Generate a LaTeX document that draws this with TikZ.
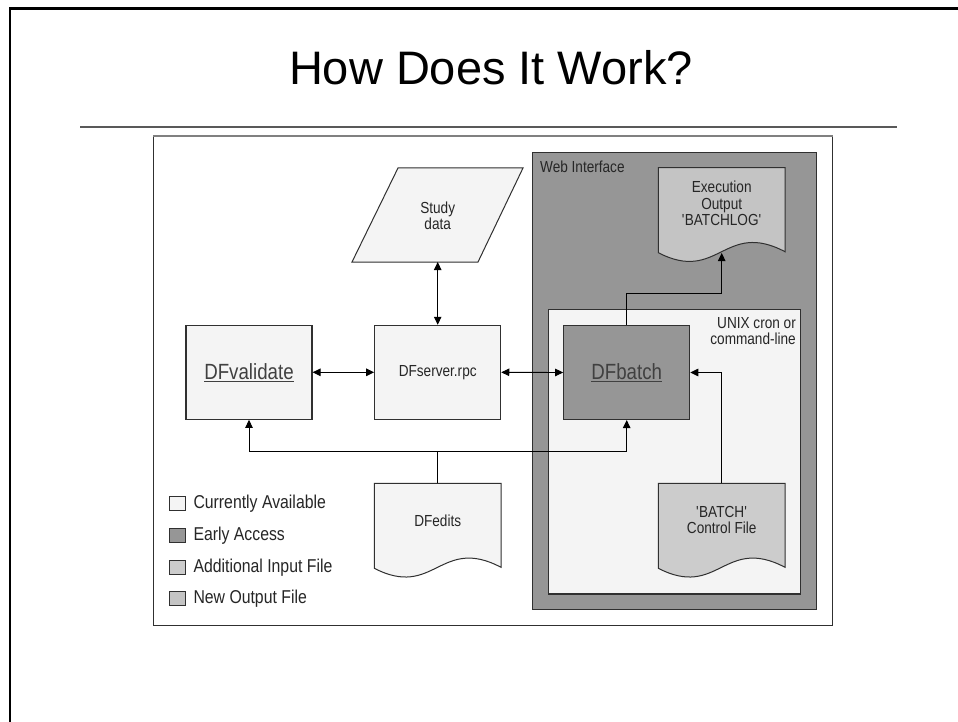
\documentclass[tikz,border=0pt]{standalone}
\usepackage{fontspec}
\setmainfont{Liberation Sans}[FakeStretch=0.85]
\newfontfamily\titlefont{Liberation Sans}
\usetikzlibrary{arrows.meta}
\definecolor{lightf}{HTML}{F4F4F4}
\definecolor{darkf}{HTML}{969696}
\definecolor{inf}{HTML}{CCCCCC}
\definecolor{outf}{HTML}{C4C4C4}
\definecolor{edge}{HTML}{303030}
\definecolor{txt}{HTML}{262626}
\definecolor{linkc}{HTML}{404040}
\begin{document}
\begin{tikzpicture}[x=1pt,y=-1pt,
  box/.style={draw=edge, line width=1.1pt, minimum width=126pt, minimum height=94pt, inner sep=0pt, font=\fontsize{16}{16.5}\selectfont, text=txt},
  bigtxt/.style={font=\fontsize{22}{24}\selectfont, text=linkc},
  lbl/.style={font=\fontsize{16}{16.5}\selectfont, text=txt, align=center, inner sep=0pt},
  arr/.style={line width=0.9pt, -{Triangle[length=8pt,width=7.5pt]}},
  dbl/.style={line width=0.9pt, {Triangle[length=8pt,width=7.5pt]}-{Triangle[length=8pt,width=7.5pt]}},
  plain/.style={line width=0.9pt},
  legbox/.style={draw=edge, line width=1pt, minimum width=16pt, minimum height=14pt, inner sep=0pt},
  legtxt/.style={font=\fontsize{18.6}{20}\selectfont, text=txt, anchor=west, inner sep=0pt},
  docshape/.style={draw=edge, line width=1pt},
  frame/.style={draw=edge, line width=1.1pt},
]
\useasboundingbox (0,0) rectangle (958,722);
% slide frame
\draw[line width=2.2pt] (10,722) -- (10,8.5) -- (958,8.5);
% title and rule
\node[font=\titlefont\fontsize{47}{50}\selectfont, anchor=base, inner sep=0pt] (title) at (491,85) {How Does It Work?};
\draw[line width=2pt, color=black!65] (80,126.7) -- (896.7,126.7);
% diagram frame
\draw[frame, fill=white] (153.3,136) rectangle (832.7,625.3);
\draw[line width=1.1pt, color=black!50] (153.3,136) -- (832.7,136);
% web interface
\draw[frame, fill=darkf] (532.7,152.3) rectangle (816.7,609.3);
\node[lbl, anchor=west] (web) at (540,167) {Web Interface};
% unix area
\draw[frame, fill=lightf] (548.3,309.3) rectangle (800.8,594);
\node[lbl, anchor=north east, align=right] (unix) at (796,317) {UNIX cron or\\command-line};
% main boxes
\node[box, fill=lightf, bigtxt] (val) at (249,372.3) {\underline{DFvalidate}};
\node[box, fill=lightf] (server) at (437.7,372.3) {DFserver.rpc};
\node[box, fill=darkf, bigtxt] (batch) at (626.7,372.5) {\underline{DFbatch}};
% study data
\draw[docshape, fill=lightf] (398,168) -- (523,168) -- (478,262) -- (352,262) -- cycle;
\node[lbl] (study) at (437.7,216) {Study\\data};
\coordinate (studyb) at (437.7,262);
% execution output
\begin{scope}[shift={(658.3,167.7)}]
\draw[docshape, fill=outf] (0,0) -- (126.7,0) -- (126.7,84) .. controls (66,52) and (60,116) .. (0,85) -- cycle;
\end{scope}
\node[lbl] (log) at (721.7,203.5) {Execution\\Output\\\textquotesingle BATCHLOG\textquotesingle};
\coordinate (logb) at (721.7,253);
% DFedits
\begin{scope}[shift={(374.3,483.3)}]
\draw[docshape, fill=lightf] (0,0) -- (126.7,0) -- (126.7,84) .. controls (66,52) and (60,116) .. (0,85) -- cycle;
\end{scope}
\node[lbl] (edits) at (437.7,520.7) {DFedits};
\coordinate (editst) at (437.7,483.3);
% batch control file
\begin{scope}[shift={(658.3,483.3)}]
\draw[docshape, fill=inf] (0,0) -- (126.7,0) -- (126.7,84) .. controls (66,52) and (60,116) .. (0,85) -- cycle;
\end{scope}
\node[lbl] (ctl) at (721.7,520) {\textquotesingle BATCH\textquotesingle\\Control File};
\coordinate (ctlt) at (721.7,483.3);
% connectors
\draw[dbl] (studyb) -- (server.north);
\draw[dbl] (val.east) -- (server.west);
\draw[dbl] (server.east) -- (batch.west);
\coordinate (bus) at (437.7,451.7);
\draw[plain] (editst) -- (bus);
\draw[arr] (bus) -| (val.south);
\draw[arr] (bus) -| (batch.south);
\coordinate (up) at (626.7,293.3);
\draw[arr] (batch.north) -- (up) -| (logb);
\draw[arr] (ctlt) |- (batch.east);
% legend
\node[legbox, fill=lightf] (l1) at (177.5,503.3) {};
\node[legtxt] (t1) at (193.3,503.3) {Currently Available};
\node[legbox, fill=darkf] (l2) at (177.5,535.7) {};
\node[legtxt] (t2) at (193.3,535.7) {Early Access};
\node[legbox, fill=inf] (l3) at (177.5,567.3) {};
\node[legtxt] (t3) at (193.3,567.3) {Additional Input File};
\node[legbox, fill=outf] (l4) at (177.5,598.3) {};
\node[legtxt] (t4) at (193.3,598.3) {New Output File};
\end{tikzpicture}
\end{document}
